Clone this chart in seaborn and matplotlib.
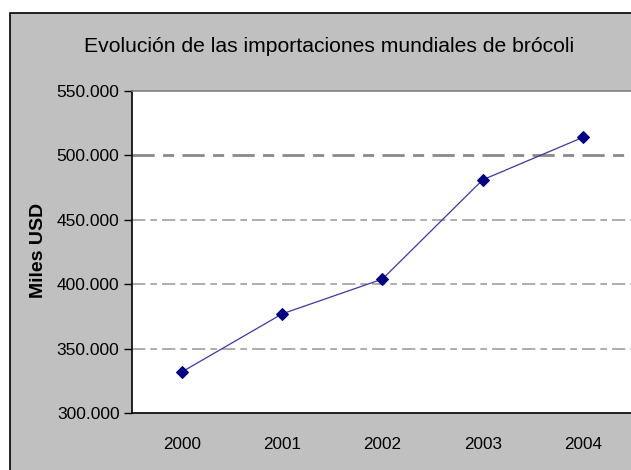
import matplotlib
matplotlib.use("Agg")
import matplotlib.pyplot as plt
import matplotlib.patches as patches
from matplotlib.ticker import FuncFormatter, FixedLocator
import pandas as pd
import seaborn as sns

years = ["2000", "2001", "2002", "2003", "2004"]
imports = [332000, 377000, 404000, 481000, 514000]
y_ticks = [300000, 350000, 400000, 450000, 500000, 550000]

df = pd.DataFrame({"year": years, "imports": imports})

sns.set_style("white")
plt.rcParams["font.family"] = ["Liberation Sans", "DejaVu Sans"]
plt.rcParams["text.color"] = "black"
plt.rcParams["xtick.color"] = "black"
plt.rcParams["ytick.color"] = "black"
plt.rcParams["axes.labelcolor"] = "black"

fig = plt.figure(figsize=(6.31, 4.70), dpi=100)
fig.patch.set_facecolor("white")

# gray chart area with black border (cut off on the right and bottom)
frame = patches.Rectangle((10 / 631, -0.05), 1.0, 457 / 470 + 0.05,
                          transform=fig.transFigure, facecolor="#c0c0c0",
                          edgecolor="black", linewidth=1.2, zorder=-5)
fig.patches.append(frame)

ax = fig.add_axes([132 / 631, 57 / 470, 1.0 - 132 / 631 + 0.003, 322 / 470])
ax.set_facecolor("white")
ax.set_zorder(2)

sns.lineplot(data=df, x="year", y="imports", ax=ax, color="#3a3a9a",
             linewidth=0.9, marker="D", markersize=6.5,
             markerfacecolor="#000080", markeredgecolor="#000080", zorder=3)

ax.set_xlim(-0.5, 4.5)
ax.set_ylim(300000, 550000)

ax.yaxis.set_major_locator(FixedLocator(y_ticks))
ax.yaxis.set_major_formatter(FuncFormatter(lambda v, p: f"{int(v):,}".replace(",", ".")))

for v in y_ticks[1:-1]:
    ax.axhline(v, color="#8a8a8a" if v == 500000 else "#a0a0a0",
               linewidth=2.0 if v == 500000 else 1.2,
               linestyle=(0, (8, 3, 4, 3)), zorder=1)

ax.set_xticks(range(len(years)))
ax.set_xticklabels(years)
ax.set_xticks([i + 0.5 for i in range(-1, len(years))], minor=True)
ax.tick_params(axis="x", which="major", length=0, pad=17, labelsize=12.3)
ax.tick_params(axis="x", which="minor", length=6, width=1, color="black", direction="out")
ax.tick_params(axis="y", which="major", length=6, width=1, color="black",
               direction="out", left=True, pad=3, labelsize=12.5)

for s in ["left", "bottom"]:
    ax.spines[s].set_color("black")
    ax.spines[s].set_linewidth(1.2)
ax.spines["top"].set_color("#808080")
ax.spines["top"].set_linewidth(1.2)
ax.spines["right"].set_visible(False)

ax.set_xlabel("")
ax.set_ylabel("Miles USD", fontsize=14, fontweight="bold")
ax.yaxis.label.set_va("center")
ax.yaxis.set_label_coords((39 - 132) / 499, (470 - 250 - 57) / 322)

fig.text(329 / 631, 1 - 47 / 470, "Evolución de las importaciones mundiales de brócoli",
         ha="center", va="center", fontsize=15.2)

fig.savefig("out.png", dpi=100, facecolor=fig.get_facecolor())
